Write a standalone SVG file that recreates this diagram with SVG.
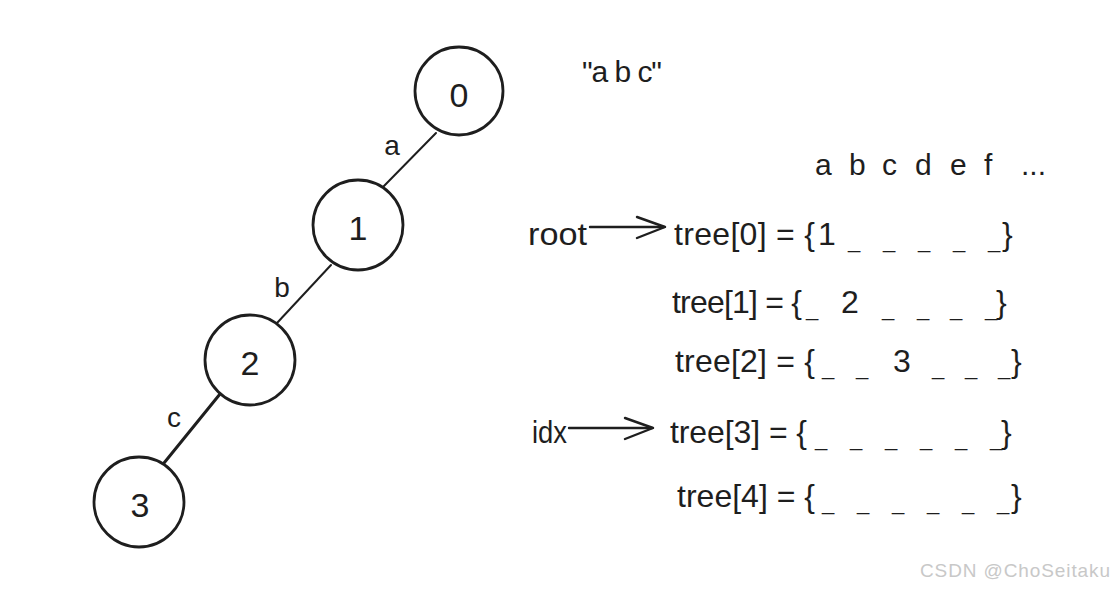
<svg xmlns="http://www.w3.org/2000/svg" width="1116" height="590" viewBox="0 0 1116 590">
<style>
.bg{fill:#ffffff}
.node circle{fill:none;stroke:#1e1e1e;stroke-width:2.8}
.t{font-family:"Liberation Sans",Arial,sans-serif;fill:#1e1e1e}
.nl{font-size:34px;text-anchor:middle}
.el{font-size:28px;text-anchor:middle}
.row{font-size:32px}
.u{font-size:22px}
.edge{stroke:#1e1e1e;stroke-width:2;fill:none;stroke-linecap:round}
.arr{stroke:#1e1e1e;stroke-width:2.4;fill:none;stroke-linecap:round;stroke-linejoin:round}
.wm{font-family:"Liberation Sans",Arial,sans-serif;font-size:19px;fill:#c8c8c8}
</style>
<rect class="bg" x="0" y="0" width="1116" height="590"/>
<g id="connectors">
<line class="edge" x1="436" y1="133" x2="383" y2="187"/>
<line class="edge" x1="331" y1="265" x2="277" y2="323"/>
<line class="edge" x1="220" y1="394" x2="164" y2="463" style="stroke-width:3"/>
<text class="t el" x="392" y="155">a</text>
<text class="t el" x="282" y="297">b</text>
<text class="t el" x="174" y="427">c</text>
</g>
<g id="node0" class="node"><circle cx="459" cy="91" r="44"/><text class="t nl" x="459" y="107">0</text></g>
<g id="node1" class="node"><circle cx="358" cy="225" r="45"/><text class="t nl" x="358" y="240">1</text></g>
<g id="node2" class="node"><circle cx="250" cy="360" r="45"/><text class="t nl" x="250" y="375">2</text></g>
<g id="node3" class="node"><circle cx="139" cy="502" r="45"/><text class="t nl" x="140" y="517">3</text></g>
<g id="string"><text class="t" x="582" y="82" font-size="30" textLength="80" lengthAdjust="spacing">"a b c"</text></g>
<g id="header"><text class="t" y="175" font-size="30"><tspan x="815">a</tspan><tspan x="849">b</tspan><tspan x="882">c</tspan><tspan x="915">d</tspan><tspan x="950">e</tspan><tspan x="984">f</tspan><tspan x="1021">...</tspan></text></g>
<g id="pointers">
<text class="t row" x="528" y="245" textLength="59" lengthAdjust="spacingAndGlyphs">root</text>
<line class="arr" x1="590" y1="227" x2="664" y2="227"/>
<polyline class="arr" points="637,217 665,227 637,238"/>
<text class="t row" x="532" y="443" textLength="35" lengthAdjust="spacingAndGlyphs">idx</text>
<line class="arr" x1="569" y1="428" x2="652" y2="428"/>
<polyline class="arr" points="625,418 653,428 625,439"/>
</g>
<g id="row0"><text class="t row" y="245"><tspan x="674" textLength="141" lengthAdjust="spacing">tree[0] = {</tspan><tspan x="818">1</tspan><tspan class="u" x="848" y="248">_</tspan><tspan class="u" x="883">_</tspan><tspan class="u" x="918">_</tspan><tspan class="u" x="953">_</tspan><tspan class="u" x="988">_</tspan><tspan x="1002" y="245">}</tspan></text></g>
<g id="row1"><text class="t row" y="313"><tspan x="672" textLength="130" lengthAdjust="spacing">tree[1] = {</tspan><tspan class="u" x="806" y="316">_</tspan><tspan x="841" y="313">2</tspan><tspan class="u" x="882" y="316">_</tspan><tspan class="u" x="917">_</tspan><tspan class="u" x="950">_</tspan><tspan class="u" x="985">_</tspan><tspan x="996" y="313">}</tspan></text></g>
<g id="row2"><text class="t row" y="372"><tspan x="675" textLength="140" lengthAdjust="spacing">tree[2] = {</tspan><tspan class="u" x="822" y="375">_</tspan><tspan class="u" x="856">_</tspan><tspan x="893" y="372">3</tspan><tspan class="u" x="932" y="375">_</tspan><tspan class="u" x="965">_</tspan><tspan class="u" x="998">_</tspan><tspan x="1011" y="372">}</tspan></text></g>
<g id="row3"><text class="t row" y="443"><tspan x="670" textLength="137" lengthAdjust="spacing">tree[3] = {</tspan><tspan class="u" x="815" y="446">_</tspan><tspan class="u" x="850">_</tspan><tspan class="u" x="885">_</tspan><tspan class="u" x="920">_</tspan><tspan class="u" x="955">_</tspan><tspan class="u" x="990">_</tspan><tspan x="1001" y="443">}</tspan></text></g>
<g id="row4"><text class="t row" y="507"><tspan x="677" textLength="138" lengthAdjust="spacing">tree[4] = {</tspan><tspan class="u" x="822" y="510">_</tspan><tspan class="u" x="857">_</tspan><tspan class="u" x="892">_</tspan><tspan class="u" x="927">_</tspan><tspan class="u" x="962">_</tspan><tspan class="u" x="997">_</tspan><tspan x="1011" y="507">}</tspan></text></g>
<text class="wm" x="920" y="577" textLength="190" lengthAdjust="spacing">CSDN @ChoSeitaku</text>
</svg>
